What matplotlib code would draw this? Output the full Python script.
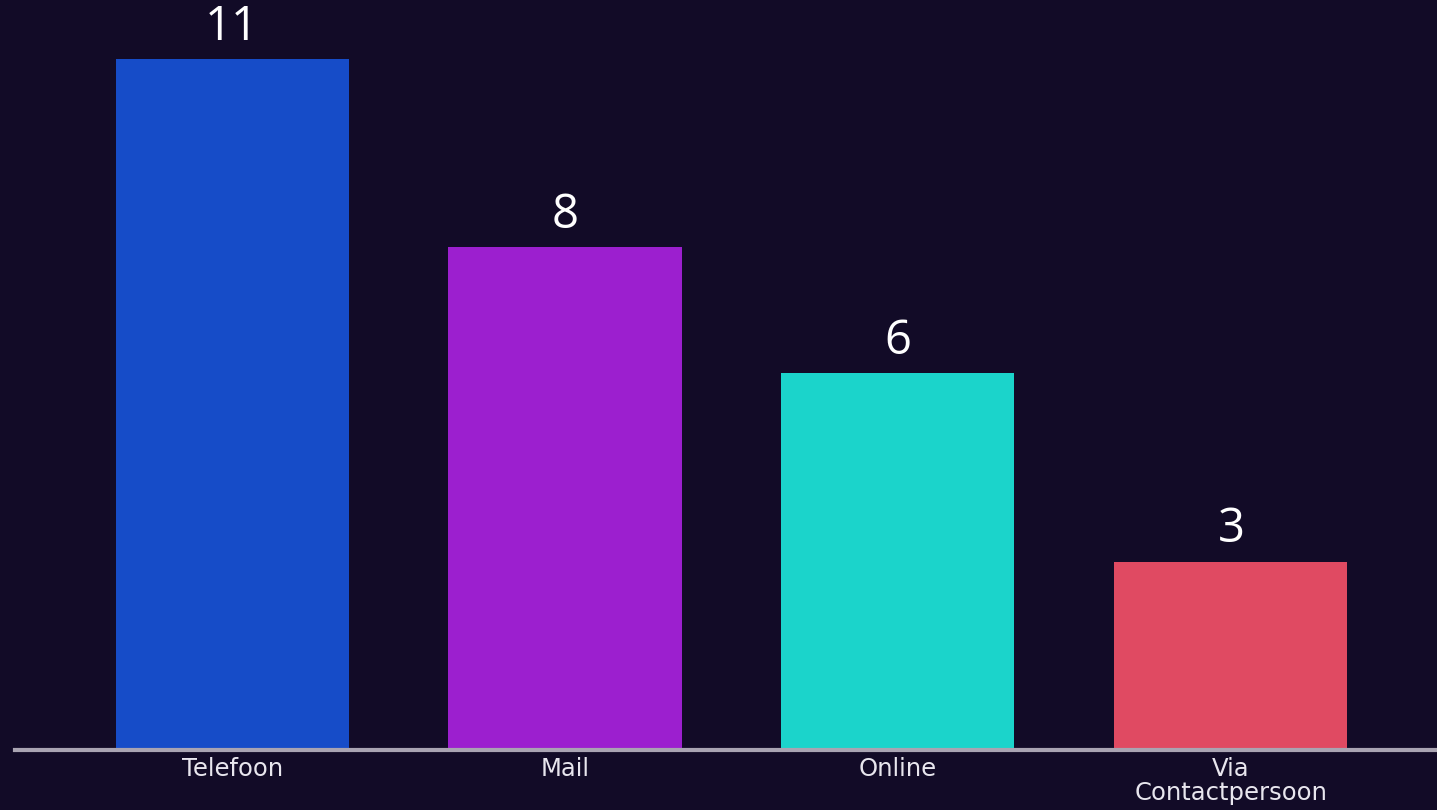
import matplotlib
matplotlib.use("Agg")
import matplotlib.pyplot as plt

categories = ["Telefoon", "Mail", "Online", "Via\nContactpersoon"]
values = [11, 8, 6, 3]
colors = ["#164cc8", "#9c1fcf", "#1bd4cb", "#e04a62"]

bg = "#120b27"
plt.rcParams["font.family"] = ["Open Sans", "DejaVu Sans"]

fig = plt.figure(figsize=(14.37, 8.1), dpi=100, facecolor=bg)
ax = fig.add_axes([15 / 1437, 60 / 810, 1422 / 1437, 750 / 810])
ax.set_facecolor(bg)

x = range(len(categories))
bars = ax.bar(x, values, width=0.7, color=colors, zorder=2)

for b, v in zip(bars, values):
    ax.annotate(str(v), (b.get_x() + b.get_width() / 2, v),
                xytext=(0, 6), textcoords="offset points",
                ha="center", va="bottom", color="white", fontsize=34)

ax.set_xlim(-0.652, 3.619)
ax.set_ylim(0, 11.94)
ax.set_xticks(list(x))
ax.set_xticklabels(categories, color="#e8e6ee", fontsize=17.5,
                   linespacing=1.0, family="DejaVu Sans")
ax.tick_params(axis="x", length=0, pad=5)
ax.set_yticks([])
for s in ["top", "right", "left"]:
    ax.spines[s].set_visible(False)
ax.spines["bottom"].set_color("#a9a4b2")
ax.spines["bottom"].set_linewidth(3)
ax.spines["bottom"].set_zorder(3)

fig.savefig("out.png", facecolor=bg)
